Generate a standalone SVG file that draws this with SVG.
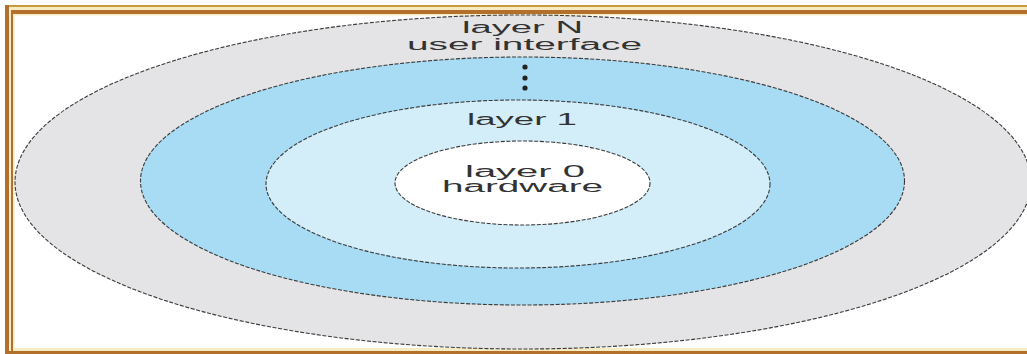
<svg xmlns="http://www.w3.org/2000/svg" width="1027" height="354" viewBox="0 0 1027 354">
  <style>
    .ring { stroke: #3a3a3a; stroke-width: 1.1; stroke-dasharray: 4 1.6; }
    .lbl { font-family: "Liberation Sans", Arial, sans-serif; font-size: 16px; fill: #333333; }
    .brown { fill: #b3702c; }
    .gold { fill: #c79a3c; }
    .cream { fill: #f6ebc2; }
  </style>
  <rect x="0" y="0" width="1027" height="354" fill="#ffffff"/>
  <g id="frame">
    <rect class="gold" x="5" y="5" width="1022" height="2"/>
    <rect class="cream" x="5" y="7" width="1022" height="3"/>
    <rect class="brown" x="5" y="10" width="1022" height="4"/>
    <rect class="cream" x="13" y="14" width="1014" height="1.5"/>
    <rect class="brown" x="5" y="5" width="4" height="349"/>
    <rect class="cream" x="9" y="10" width="2" height="344"/>
    <rect class="brown" x="11" y="10" width="2" height="344"/>
    <rect class="cream" x="13" y="14" width="1.5" height="335"/>
    <rect class="cream" x="13" y="348" width="1014" height="3"/>
    <rect class="brown" x="5" y="351" width="1022" height="3"/>
  </g>
  <g id="layerN">
    <ellipse class="ring" cx="523" cy="182" rx="508" ry="167" fill="#e4e4e6"/>
    <text class="lbl" x="462" y="33" textLength="121" lengthAdjust="spacingAndGlyphs">layer N</text>
    <text class="lbl" x="407" y="50" textLength="235" lengthAdjust="spacingAndGlyphs">user interface</text>
  </g>
  <g id="layers-middle">
    <ellipse class="ring" cx="522.5" cy="181" rx="382" ry="124" fill="#a8dcf5"/>
    <circle cx="525" cy="67" r="2.6" fill="#222"/>
    <circle cx="525" cy="78" r="2.6" fill="#222"/>
    <circle cx="525" cy="88" r="2.6" fill="#222"/>
  </g>
  <g id="layer1">
    <ellipse class="ring" cx="518" cy="184" rx="252" ry="84" fill="#d3eef9"/>
    <text class="lbl" x="467" y="125" textLength="110" lengthAdjust="spacingAndGlyphs">layer 1</text>
  </g>
  <g id="layer0">
    <ellipse class="ring" cx="522.5" cy="183" rx="127.5" ry="42" fill="#ffffff"/>
    <text class="lbl" x="465" y="177" textLength="120" lengthAdjust="spacingAndGlyphs">layer 0</text>
    <text class="lbl" x="442" y="192" textLength="161" lengthAdjust="spacingAndGlyphs">hardware</text>
  </g>
  <g id="connectors"/>
</svg>
